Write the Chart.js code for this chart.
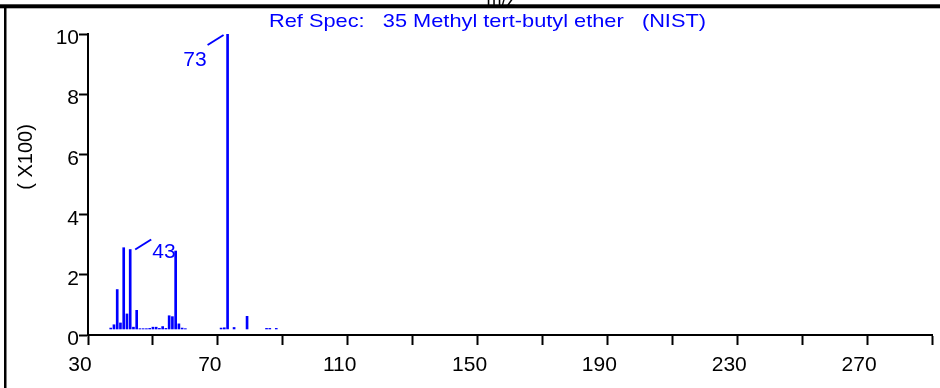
<!DOCTYPE html>
<html>
<head>
<meta charset="utf-8">
<title>Ref Spec: 35 Methyl tert-butyl ether (NIST)</title>
<script src="https://cdn.jsdelivr.net/npm/chart.js@4.4.1/dist/chart.umd.min.js"></script>
<style>
  html, body { margin: 0; padding: 0; background: #fff; }
  #spec { display: block; }
</style>
</head>
<body>
<canvas id="spec" width="940" height="388"></canvas>
<script>
// ---------- spectrum data (abundance in units of x100) ----------
const mzValues  = [37, 38, 39, 40, 41, 42, 43, 44, 45, 46, 47, 48, 49, 50, 51, 52, 53, 54, 55, 56, 57, 58, 59, 60, 71, 72, 73, 75, 79, 85, 86, 88];
const abundance = [0.23, 0.34, 1.51, 0.40, 2.90, 0.70, 2.84, 0.26, 0.82, 0.21, 0.21, 0.21, 0.22, 0.26, 0.26, 0.22, 0.28, 0.22, 0.64, 0.61, 2.79, 0.37, 0.23, 0.21, 0.23, 0.24, 10.0, 0.25, 0.62, 0.22, 0.22, 0.22];

// peaks that get a number next to them
const peakLabels = [
  { mz: 73, side: "left" },
  { mz: 43, side: "right" }
];

const titleText = "Ref Spec:   35 Methyl tert-butyl ether   (NIST)";
const yTitle = "( X100)";
const xTitle = "m/z";

const BLUE = "rgb(0,0,255)";
const FONT = "'Liberation Sans', Arial, sans-serif";

// ---------- frame, titles and peak labels ----------
const decor = {
  id: "decor",
  afterDraw(chart) {
    const ctx = chart.ctx;
    ctx.save();

    // x title sits behind the top rule, only its lower part shows
    ctx.fillStyle = "#000";
    ctx.font = "18px " + FONT;
    ctx.textAlign = "center";
    ctx.textBaseline = "alphabetic";
    ctx.fillText(xTitle, 501, 6);

    // top rule + left border
    ctx.fillRect(0, 4.3, 940, 4);
    ctx.fillRect(4, 6, 2.5, 382);

    // spectrum title, stretched a little to the original width
    ctx.fillStyle = BLUE;
    ctx.font = "19px " + FONT;
    const w = ctx.measureText(titleText).width;
    const targetW = 437;
    ctx.save();
    ctx.translate(487.5, 27);
    ctx.scale(targetW / w, 1);
    ctx.textAlign = "center";
    ctx.fillText(titleText, 0, 0);
    ctx.restore();

    // y title, rotated
    ctx.save();
    ctx.fillStyle = "#000";
    ctx.font = "20px " + FONT;
    ctx.translate(26, 157);
    ctx.rotate(-Math.PI / 2);
    ctx.textAlign = "center";
    ctx.textBaseline = "middle";
    ctx.fillText(yTitle, 0, 0);
    ctx.restore();

    // peak numbers with their leader lines
    const meta = chart.getDatasetMeta(0);
    ctx.strokeStyle = BLUE;
    ctx.fillStyle = BLUE;
    ctx.lineWidth = 2;
    ctx.font = "21px " + FONT;
    ctx.textBaseline = "middle";
    peakLabels.forEach(p => {
      const i = mzValues.indexOf(p.mz);
      if (i < 0) return;
      const bar = meta.data[i];
      const bx = bar.x, top = bar.y;
      ctx.beginPath();
      if (p.side === "left") {
        ctx.moveTo(bx - 20, top + 11);
        ctx.lineTo(bx - 4, top + 1);
        ctx.stroke();
        ctx.textAlign = "right";
        ctx.fillText(String(p.mz), bx - 21, top + 26);
      } else {
        ctx.moveTo(bx + 5, top);
        ctx.lineTo(bx + 21, top - 10);
        ctx.stroke();
        ctx.textAlign = "left";
        ctx.fillText(String(p.mz), bx + 22, top + 3);
      }
    });

    ctx.restore();
  }
};

const tickFont = { family: FONT, size: 21 };

new Chart(document.getElementById("spec"), {
  type: "bar",
  data: {
    datasets: [{
      data: mzValues.map((m, i) => ({ x: m, y: abundance[i] })),
      backgroundColor: BLUE,
      borderWidth: 0,
      barThickness: 2,
      base: 0.2
    }]
  },
  options: {
    responsive: false,
    animation: false,
    events: [],
    layout: { padding: { top: 34, right: 1, left: 0, bottom: 0 } },
    plugins: { legend: { display: false }, tooltip: { enabled: false } },
    scales: {
      x: {
        type: "linear",
        min: 30,
        max: 290,
        offset: false,
        grid: { offset: false, drawOnChartArea: false, drawTicks: true, tickLength: 10, tickWidth: 2, tickColor: "#000" },
        border: { display: true, color: "#000", width: 2 },
        ticks: {
          stepSize: 20,
          autoSkip: false,
          maxRotation: 0,
          color: "#000",
          font: tickFont,
          padding: 8,
          labelOffset: -8,
          callback: v => ((v - 30) % 40 === 0 ? String(v) : "")
        },
        afterFit: s => { s.height = 53; }
      },
      y: {
        min: 0,
        max: 10,
        grid: { drawOnChartArea: false, drawTicks: true, tickLength: 9, tickWidth: 2, tickColor: "#000" },
        border: { display: true, color: "#000", width: 2 },
        ticks: {
          stepSize: 2,
          color: "#000",
          font: tickFont,
          padding: 0,
          labelOffset: 4.5
        },
        afterFit: s => { s.width = 88; }
      }
    }
  },
  plugins: [decor]
});
</script>
</body>
</html>
